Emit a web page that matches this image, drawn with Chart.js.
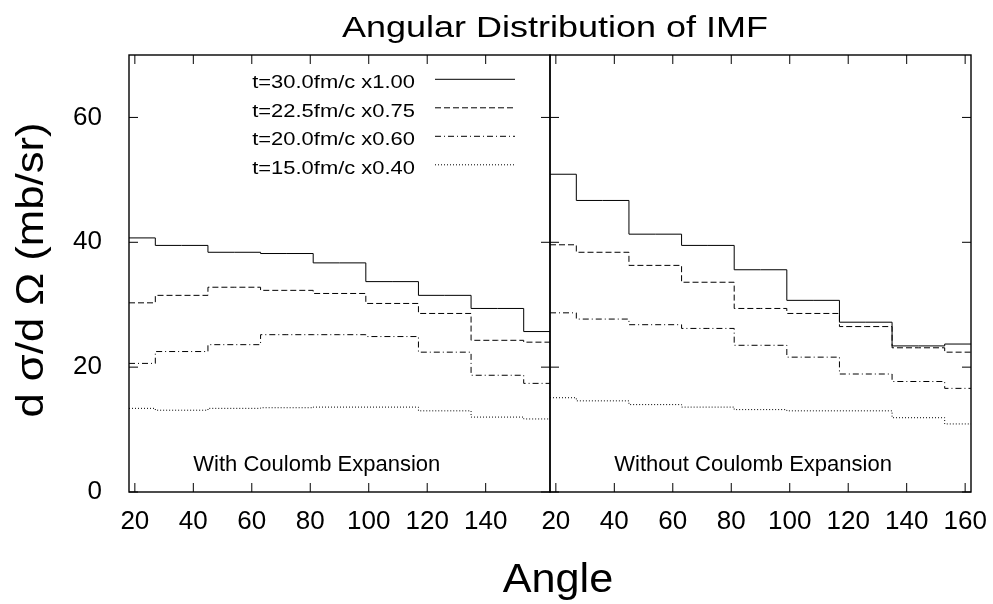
<!DOCTYPE html>
<html>
<head>
<meta charset="utf-8">
<title>Angular Distribution of IMF</title>
<script src="https://cdn.jsdelivr.net/npm/chart.js@4/dist/chart.umd.min.js"></script>
<style>
  html, body { margin: 0; padding: 0; background: #fff; }
  #chart { display: block; }
</style>
</head>
<body>
<canvas id="chart" width="993" height="604"></canvas>
<script>
// bin centres (degrees), same for both panels
const angles = [18, 36, 54, 72, 90, 108, 126, 144, 162];

const seriesLabels = ['t=30.0fm/c x1.00', 't=22.5fm/c x0.75', 't=20.0fm/c x0.60', 't=15.0fm/c x0.40'];

// left panel: with Coulomb expansion
const withCoulomb300 = [40.7, 39.5, 38.4, 38.2, 36.7, 33.7, 31.5, 29.4, 25.7];
const withCoulomb225 = [30.3, 31.5, 32.8, 32.3, 31.8, 30.2, 28.6, 24.3, 24.0];
const withCoulomb200 = [20.6, 22.5, 23.6, 25.2, 25.2, 24.9, 22.4, 18.7, 17.4];
const withCoulomb150 = [13.4, 13.1, 13.4, 13.5, 13.6, 13.6, 13.0, 12.0, 11.7];

// right panel: without Coulomb expansion
const withoutCoulomb300 = [50.9, 46.7, 41.3, 39.5, 35.6, 30.7, 27.2, 23.4, 23.7];
const withoutCoulomb225 = [39.6, 38.4, 36.3, 33.6, 29.4, 28.6, 26.5, 23.1, 22.4];
const withoutCoulomb200 = [28.7, 27.7, 26.8, 26.2, 23.5, 21.6, 18.9, 17.7, 16.6];
const withoutCoulomb150 = [15.1, 14.6, 14.0, 13.6, 13.2, 13.0, 13.0, 11.9, 10.9];

const xTicksLeft = [20, 40, 60, 80, 100, 120, 140];
const xTicksRight = [20, 40, 60, 80, 100, 120, 140, 160];
const yTicks = [0, 20, 40, 60];

const FONT = '"Liberation Sans", Arial, Helvetica, sans-serif';
const TICK = 9;
const dashes = [[], [6, 3], [6, 3, 1, 3], [1, 2]];

function drawText(ctx, text, x, y, size, stretch, align, angle) {
  ctx.save();
  ctx.translate(x, y);
  if (angle) ctx.rotate(angle);
  ctx.scale(stretch, 1);
  ctx.font = size + 'px ' + FONT;
  ctx.textAlign = align;
  ctx.textBaseline = 'alphabetic';
  ctx.fillStyle = '#000';
  ctx.fillText(text, 0, 0);
  ctx.restore();
}

function makeDataset(label, values, axisId, i) {
  return {
    label: label,
    data: angles.map((a, k) => ({ x: a, y: values[k] })),
    xAxisID: axisId,
    yAxisID: 'y',
    stepped: 'middle',
    borderColor: '#000',
    borderWidth: 1,
    borderDash: dashes[i],
    pointRadius: 0,
    fill: false,
  };
}

// gnuplot-like frame: boxes, inward mirrored ticks, legend and labels
const framePlugin = {
  id: 'frame',
  afterDatasetsDraw(chart) {
    const ctx = chart.ctx;
    const area = chart.chartArea;
    const y = chart.scales.y;
    const panels = [[chart.scales.xLeft, xTicksLeft], [chart.scales.xRight, xTicksRight]];

    ctx.save();
    ctx.strokeStyle = '#000';
    panels.forEach(([x, ticks]) => {
      ctx.lineWidth = 1.4;
      ctx.setLineDash([]);
      ctx.strokeRect(x.left, area.top, x.right - x.left, area.bottom - area.top);

      ctx.lineWidth = 1;
      ctx.beginPath();
      ticks.forEach(v => {
        const px = x.getPixelForValue(v);
        ctx.moveTo(px, area.bottom);
        ctx.lineTo(px, area.bottom - TICK);
        ctx.moveTo(px, area.top);
        ctx.lineTo(px, area.top + TICK);
      });
      yTicks.forEach(v => {
        const py = y.getPixelForValue(v);
        ctx.moveTo(x.left, py);
        ctx.lineTo(x.left + TICK, py);
        ctx.moveTo(x.right, py);
        ctx.lineTo(x.right - TICK, py);
      });
      ctx.stroke();
    });

    // legend (left panel)
    seriesLabels.forEach((label, i) => {
      const ly = 79.3 + i * 28.5;
      drawText(ctx, label, 415, ly + 9, 18.6, 1.18, 'right');
      ctx.beginPath();
      ctx.lineWidth = 1;
      ctx.setLineDash(dashes[i]);
      ctx.moveTo(435, ly);
      ctx.lineTo(515, ly);
      ctx.stroke();
    });
    ctx.setLineDash([]);

    // panel labels
    drawText(ctx, 'With Coulomb Expansion', chart.scales.xLeft.getPixelForValue(40), area.bottom - 21, 22, 1, 'left');
    drawText(ctx, 'Without Coulomb Expansion', chart.scales.xRight.getPixelForValue(40), area.bottom - 21, 22, 1, 'left');

    // titles
    drawText(ctx, 'Angular Distribution of IMF', 555, 36.7, 30, 1.2, 'center');
    drawText(ctx, 'Angle', 558, 591.7, 40, 1.08, 'center');
    drawText(ctx, 'd σ/d Ω (mb/sr)', 43.3, 270, 38, 1.15, 'center', -Math.PI / 2);
    ctx.restore();
  }
};

function xAxis() {
  return {
    type: 'linear',
    position: 'bottom',
    stack: 'panels',
    stackWeight: 1,
    min: 18,
    max: 162,
    grid: { display: false },
    border: { display: false },
    ticks: {
      color: '#000',
      font: { size: 26, family: FONT },
      padding: 6,
      maxRotation: 0,
      autoSkip: false,
      callback: v => String(v),
    },
    afterFit: scale => {
      scale.height = 112;
      scale.paddingLeft = 0;
      scale.paddingRight = 0;
    },
  };
}

function init() {
  const datasets = [
    makeDataset(seriesLabels[0], withCoulomb300, 'xLeft', 0),
    makeDataset(seriesLabels[1], withCoulomb225, 'xLeft', 1),
    makeDataset(seriesLabels[2], withCoulomb200, 'xLeft', 2),
    makeDataset(seriesLabels[3], withCoulomb150, 'xLeft', 3),
    makeDataset(seriesLabels[0], withoutCoulomb300, 'xRight', 0),
    makeDataset(seriesLabels[1], withoutCoulomb225, 'xRight', 1),
    makeDataset(seriesLabels[2], withoutCoulomb200, 'xRight', 2),
    makeDataset(seriesLabels[3], withoutCoulomb150, 'xRight', 3),
  ];

  const left = xAxis();
  left.afterBuildTicks = scale => { scale.ticks = xTicksLeft.map(v => ({ value: v })); };
  const right = xAxis();
  right.afterBuildTicks = scale => { scale.ticks = xTicksRight.map(v => ({ value: v })); };

  new Chart(document.getElementById('chart').getContext('2d'), {
    type: 'line',
    data: { datasets },
    options: {
      responsive: false,
      animation: false,
      devicePixelRatio: 1,
      layout: { padding: { left: 29, right: 22, top: 55, bottom: 0 } },
      plugins: {
        legend: { display: false },
        title: { display: false },
        tooltip: { enabled: false },
      },
      scales: {
        xLeft: left,
        xRight: right,
        y: {
          type: 'linear',
          position: 'left',
          min: 0,
          max: 70,
          grid: { display: false },
          border: { display: false },
          ticks: {
            color: '#000',
            font: { size: 26, family: FONT },
            padding: 19,
            callback: v => String(v),
          },
          afterBuildTicks: scale => { scale.ticks = yTicks.map(v => ({ value: v })); },
          afterFit: scale => { scale.width = 100; },
        },
      },
    },
    plugins: [framePlugin],
  });
}

init();
</script>
</body>
</html>
